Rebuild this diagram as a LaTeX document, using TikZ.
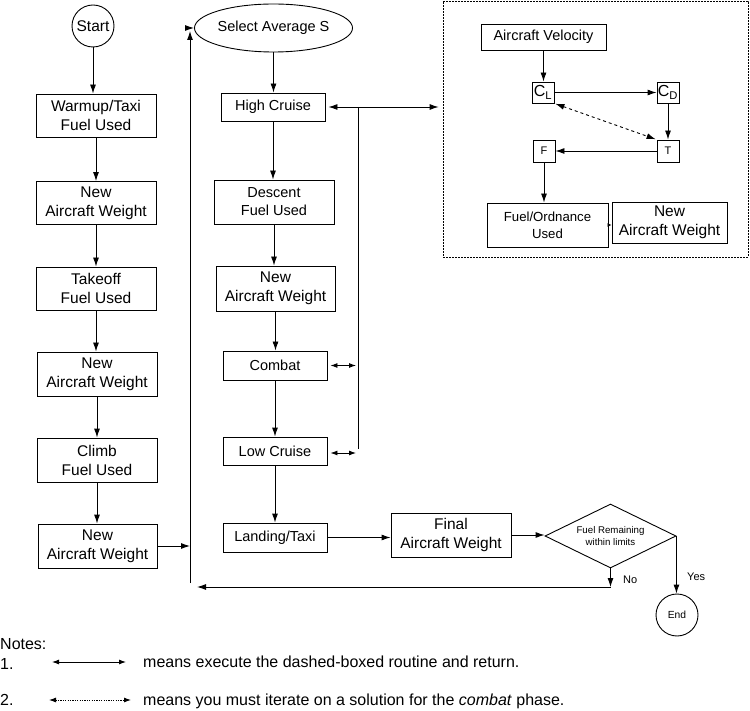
\documentclass[tikz,border=0pt]{standalone}
\usepackage{fontspec}
\setmainfont{Liberation Sans}
\usetikzlibrary{shapes.geometric,arrows.meta}
\begin{document}
\begin{tikzpicture}[x=1pt,y=-1pt,
  box/.style={draw, line width=0.9pt, inner sep=0pt, align=center},
  bigtxt/.style={font=\fontsize{15.5}{19}\selectfont},
  midtxt/.style={font=\fontsize{14.5}{18}\selectfont},
  notetxt/.style={font=\fontsize{16}{19}\selectfont},
  arr/.style={-{Latex[length=9pt,width=6pt]}, line width=0.9pt},
  darr/.style={{Latex[length=9pt,width=6pt]}-{Latex[length=9pt,width=6pt]}, line width=0.9pt},
  sdarr/.style={{Latex[length=7pt,width=5pt]}-{Latex[length=7pt,width=5pt]}, line width=0.9pt},
  plain/.style={line width=0.9pt},
  lbl/.style={inner sep=0pt, anchor=west},
  blbl/.style={inner sep=0pt, anchor=base west}]
\useasboundingbox (0,0) rectangle (750,711);

% left column
\node[box, circle, minimum size=42pt, font=\fontsize{15.5}{18}\selectfont] (start) at (93,26) {Start};
\node[box, bigtxt, minimum width=120pt, minimum height=43pt] (warm) at (96,115.5) {Warmup/Taxi\\Fuel Used};
\node[box, bigtxt, minimum width=120pt, minimum height=43pt] (naw1) at (96,203) {New\\Aircraft Weight};
\node[box, bigtxt, minimum width=120pt, minimum height=43pt] (take) at (96,288.5) {Takeoff\\Fuel Used};
\node[box, bigtxt, minimum width=120pt, minimum height=44pt] (naw2) at (97,374) {New\\Aircraft Weight};
\node[box, bigtxt, minimum width=120pt, minimum height=44pt] (climb) at (97,460) {Climb\\Fuel Used};
\node[box, bigtxt, minimum width=119pt, minimum height=44pt] (naw3) at (97.5,546) {New\\Aircraft Weight};

\draw[arr] (start.south) -- (start.south |- warm.north);
\draw[arr] (warm.south) -- (warm.south |- naw1.north);
\draw[arr] (naw1.south) -- (naw1.south |- take.north);
\draw[arr] (take.south) -- (take.south |- naw2.north);
\draw[arr] (naw2.south) -- (naw2.south |- climb.north);
\draw[arr] (climb.south) -- (climb.south |- naw3.north);

% middle column
\node[box, ellipse, midtxt, minimum width=127pt, minimum height=48pt] (sel) at (273.5,28) {Select Average S};
\node[box, midtxt, minimum width=104pt, minimum height=28pt] (hc) at (273,107) {High Cruise};
\node[box, midtxt, minimum width=120pt, minimum height=44pt] (desc) at (274,202) {Descent\\Fuel Used};
\node[box, bigtxt, minimum width=119pt, minimum height=45pt] (naw4) at (275.5,288.5) {New\\Aircraft Weight};
\node[box, midtxt, minimum width=104pt, minimum height=29pt] (comb) at (275,365.5) {Combat};
\node[box, midtxt, minimum width=104pt, minimum height=28pt] (low) at (275,451) {Low Cruise};
\node[box, midtxt, minimum width=104pt, minimum height=29pt] (land) at (275,537.5) {Landing/Taxi};

\draw[arr] (sel.south) -- (sel.south |- hc.north);
\draw[arr] (hc.south) -- (hc.south |- desc.north);
\draw[arr] (desc.south) -- (desc.south |- naw4.north);
\draw[arr] (naw4.south) -- (naw4.south |- comb.north);
\draw[arr] (comb.south) -- (comb.south |- low.north);
\draw[arr] (low.south) -- (low.south |- land.north);

% bottom row
\node[box, bigtxt, minimum width=120pt, minimum height=44pt] (final) at (451,535) {Final\\Aircraft Weight};
\node[box, diamond, aspect=2.05, minimum width=131pt, minimum height=64pt, font=\fontsize{9.7}{12}\selectfont] (dia) at (610.5,536) {Fuel Remaining\\within limits};
\node[box, circle, minimum size=42pt, font=\fontsize{10.3}{12}\selectfont] (end) at (677,615) {End};

\draw[arr] (land.east) -- (land.east -| final.west);
\draw[arr] (final.east) -- (final.east -| dia.west);
\draw[arr] (dia.east) -- (dia.east |- end.north);
\node[lbl, font=\fontsize{11}{13}\selectfont] (yes) at (687,577) {Yes};

\coordinate (nb) at (dia.south |- 0,587);
\coordinate (ret) at (197,587);
\draw[arr] (dia.south) -- (nb);
\draw[plain] (nb) -- ++(-0.45pt,0);
\draw[arr] (nb) -- (ret);
\node[lbl, font=\fontsize{11}{13}\selectfont] (no) at (623,580) {No};

% loop line
\coordinate (lb) at (190,583);
\coordinate (lt) at (190,28);
\coordinate (ltu) at (190,31);
\draw[arr] (naw3.east) -- (naw3.east -| lb);
\draw[arr] (lb) -- (ltu);
\draw[arr] (lt) -- (sel.west);

% dashed routine box
\node[draw, line width=0.8pt, dash pattern=on 1.6pt off 1.4pt, minimum width=305pt, minimum height=256pt, inner sep=0pt] (routine) at (595.5,129) {};
\node[box, midtxt, minimum width=125pt, minimum height=26pt] (av) at (543.5,37) {Aircraft Velocity};
\node[box, minimum width=22pt, minimum height=21pt, font=\fontsize{16}{18}\selectfont] (cl) at (543,92.5) {C\textsubscript{L}};
\node[box, minimum width=22pt, minimum height=21pt, font=\fontsize{16}{18}\selectfont] (cd) at (668,92.5) {C\textsubscript{D}};
\node[box, minimum width=22pt, minimum height=22pt, font=\fontsize{11}{13}\selectfont] (t) at (668,151) {T};
\node[box, minimum width=22pt, minimum height=22pt, font=\fontsize{11}{13}\selectfont] (f) at (544,151) {F};
\node[box, font=\fontsize{13.2}{17}\selectfont, minimum width=121pt, minimum height=44pt] (fo) at (547.5,225) {Fuel/Ordnance\\Used};
\node[box, bigtxt, minimum width=115pt, minimum height=41pt] (naw5) at (669.5,222.5) {New\\Aircraft Weight};

\draw[arr] (av.south) -- (av.south |- cl.north);
\draw[arr] (cl.east) -- (cd.west);
\draw[arr] (cd.south) -- (t.north);
\draw[arr] (t.west) -- (f.east);
\draw[arr] (f.south) -- (f.south |- fo.north);
\draw[-{Latex[length=4pt,width=4pt]}, line width=0.9pt] (fo.east) -- (fo.east -| naw5.west);
\draw[darr, dashed, shorten <=1pt, shorten >=1pt] (cl.south east) -- (t.north west);

% connections to routine
\coordinate (vt) at (358,107);
\coordinate (vb) at (358,449);
\draw[darr, shorten <=3pt, shorten >=4pt] (hc.east) -- (hc.east -| routine.west);
\draw[plain] (vt) -- (vb);
\draw[sdarr, shorten <=3pt, shorten >=2pt] (comb.east) -- (comb.east -| vt);
\draw[sdarr, shorten <=3pt, shorten >=2pt] (low.east |- 0,453) coordinate (lw) -- (lw -| vt);

% notes
\node[blbl, notetxt] (notes) at (0,649) {Notes:};
\node[blbl, notetxt] (n1) at (0,669) {1.};
\node[blbl, notetxt] (n2) at (0,705.5) {2.};
\coordinate (a1l) at (52,662);
\coordinate (a1r) at (126,662);
\coordinate (a2l) at (49,700);
\coordinate (a2r) at (131,700);
\draw[sdarr] (a1l) -- (a1r);
\draw[sdarr, dash pattern=on 1.2pt off 1.2pt] (a2l) -- (a2r);
\node[blbl, notetxt] (t1) at (143,667.5) {means execute the dashed-boxed routine and return.};
\node[blbl, notetxt] (t2) at (143,705) {means you must iterate on a solution for the \textit{combat} phase.};
\end{tikzpicture}
\end{document}
